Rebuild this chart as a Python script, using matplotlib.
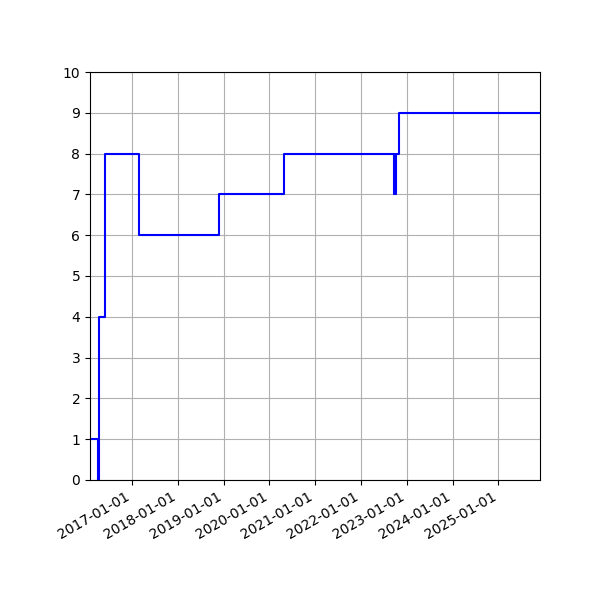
import numpy as np
import pandas as pd
import matplotlib
matplotlib.use('Agg')
import matplotlib.pyplot as plt
import matplotlib.dates as mdates

# change dates and the value that holds from each date on
dates = ['2016-02-01', '2016-04-06', '2016-04-12', '2016-05-27', '2017-02-25',
         '2018-11-23', '2020-04-25', '2022-09-20', '2022-09-25', '2022-09-30',
         '2022-10-06', '2022-11-01', '2025-11-28']
values = [1, 0, 4, 8, 6, 7, 8, 7, 8, 7, 8, 9, 9]

t = pd.to_datetime(dates)

fig, ax = plt.subplots(figsize=(6, 6), dpi=100)
ax.step(t, values, where='post', color='blue', linewidth=1.5)
ax.set_xlim(t[0], t[-1])
ax.set_ylim(0, 10)
ax.set_yticks(range(0, 11))
ax.xaxis.set_major_locator(mdates.YearLocator())
ax.xaxis.set_major_formatter(mdates.DateFormatter('%Y-%m-%d'))
ax.grid(True)
fig.autofmt_xdate()
fig.subplots_adjust(left=0.15, right=0.9, top=0.88, bottom=0.2)
fig.savefig('out.png')
